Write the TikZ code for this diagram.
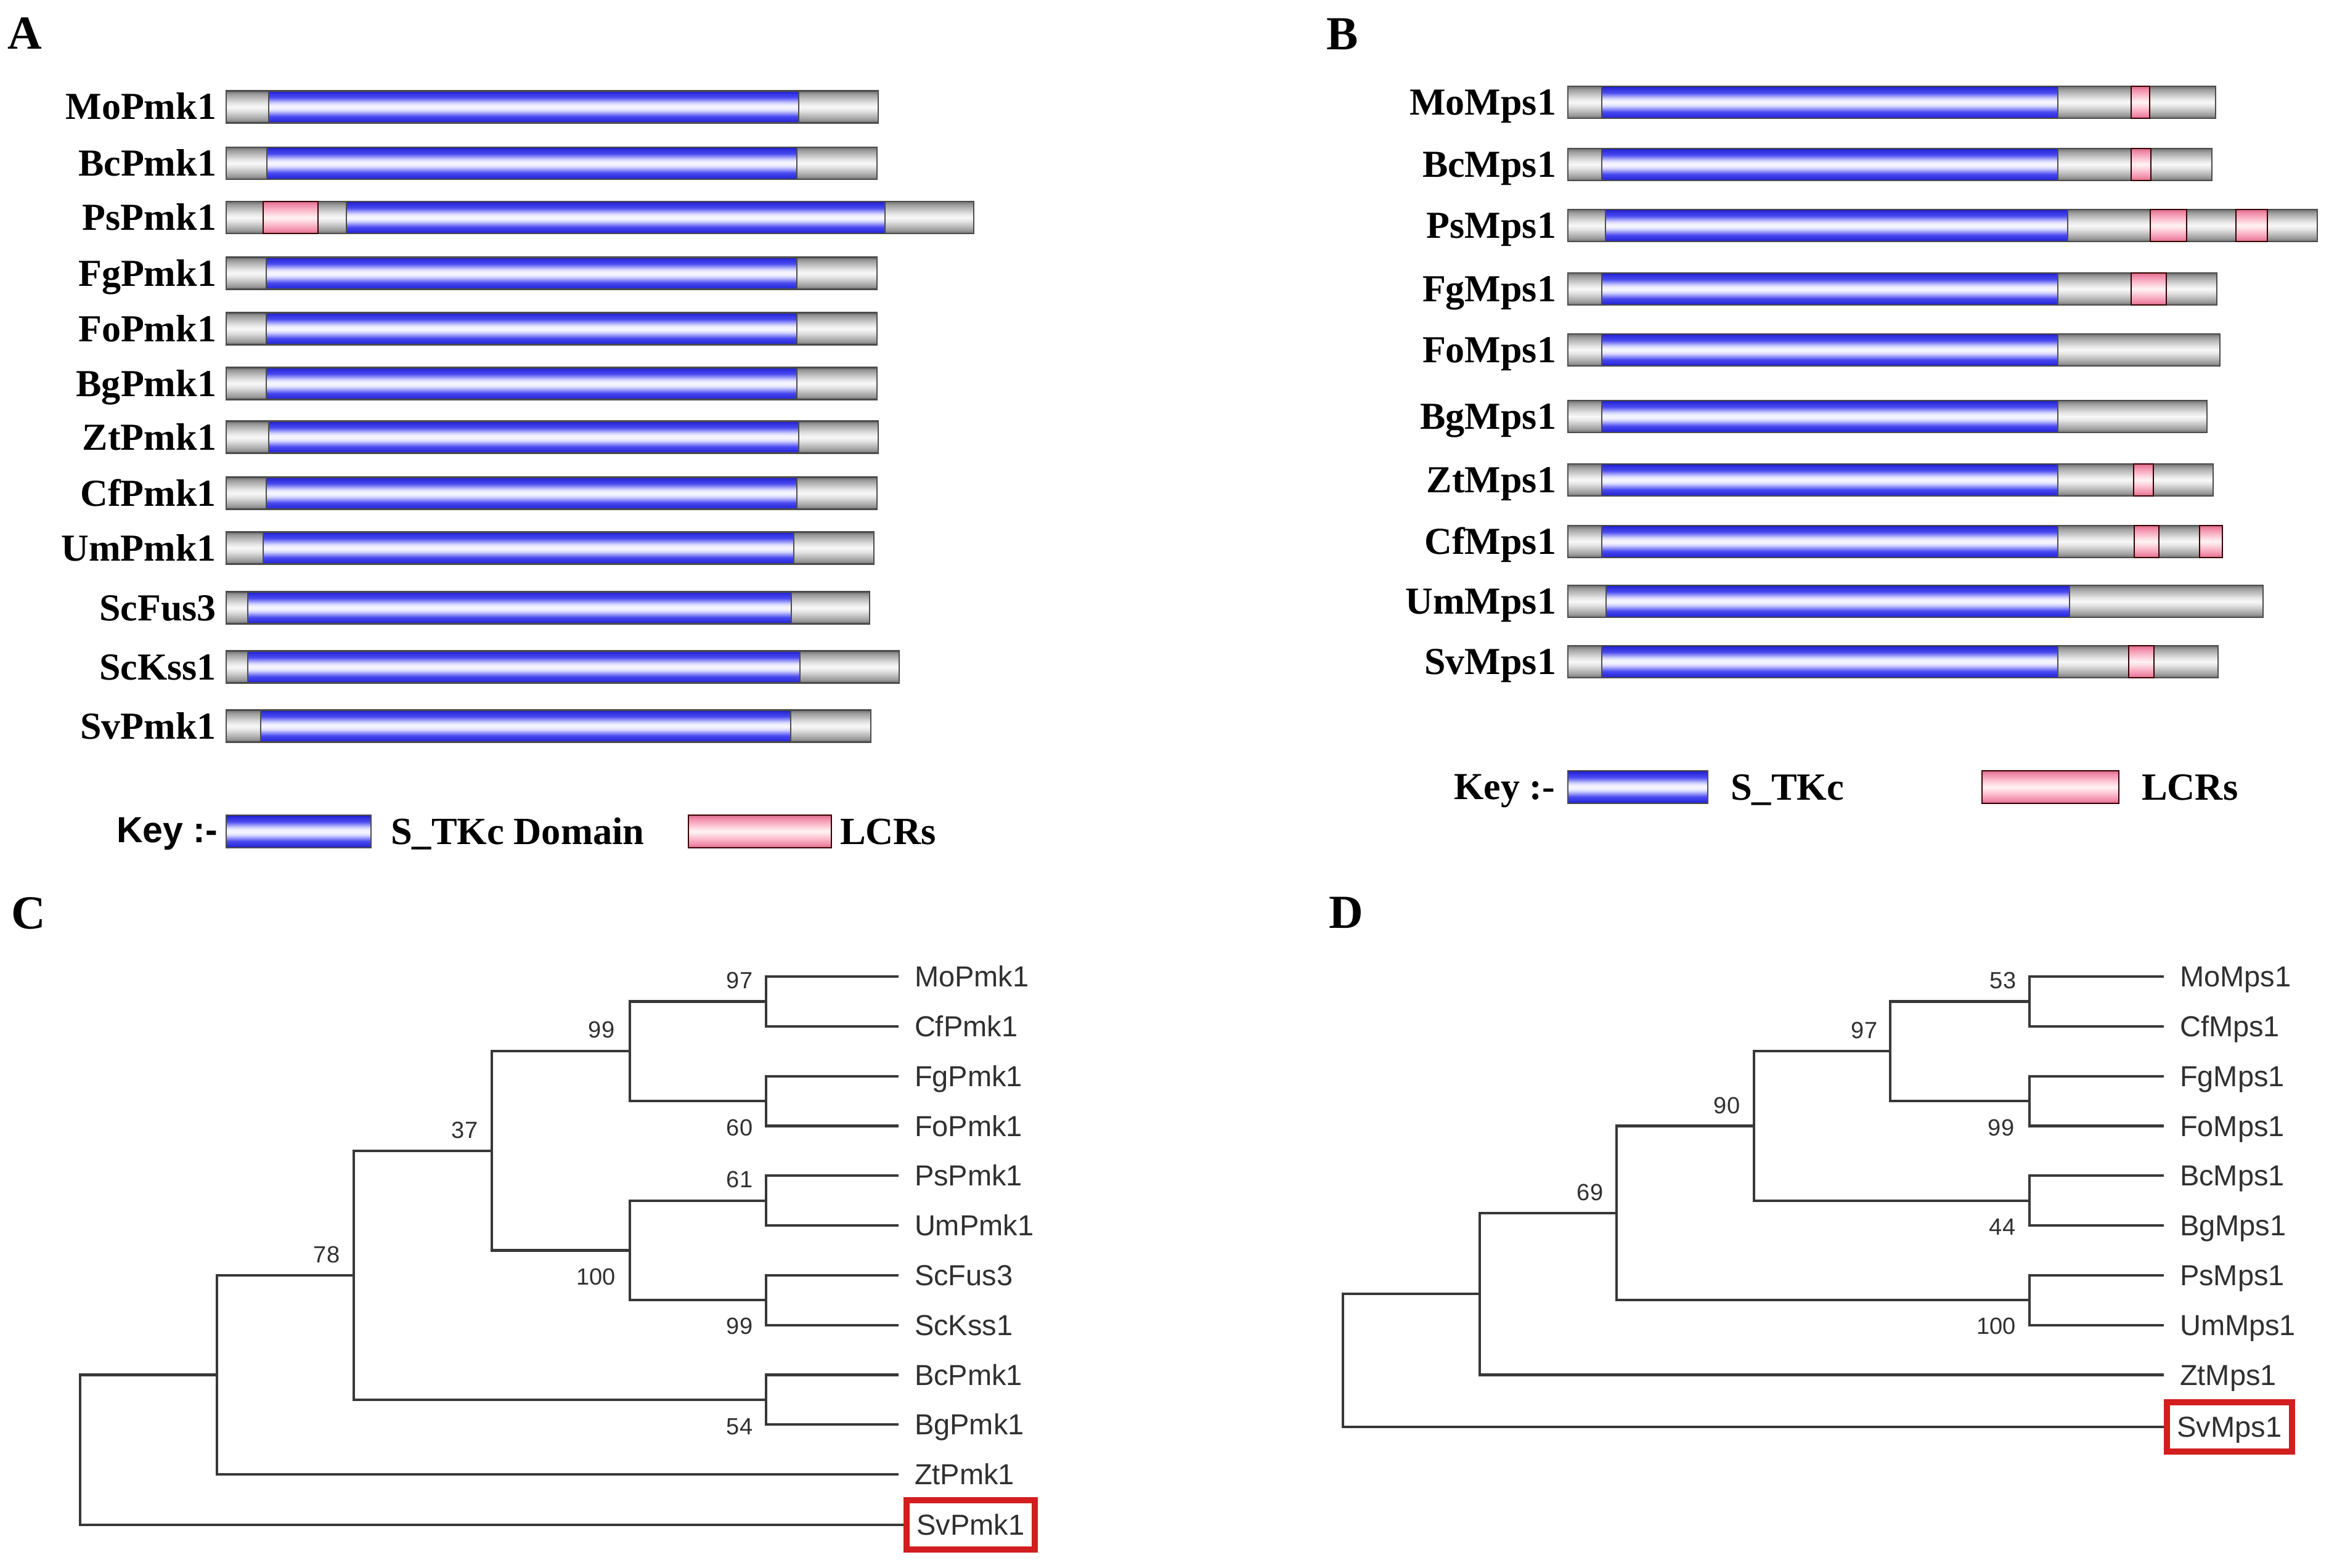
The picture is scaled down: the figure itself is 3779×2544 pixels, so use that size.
\documentclass[tikz,border=0pt]{standalone}
\usepackage{fontspec}
\setmainfont{Liberation Serif}
\newfontfamily\tnr{Liberation Serif}
\newfontfamily\ars{Liberation Sans}
\definecolor{bdk}{HTML}{1A1A8C}
\definecolor{bma}{HTML}{2828D8}
\definecolor{bmb}{HTML}{4A4AF0}
\definecolor{blt}{HTML}{D4D4FF}
\definecolor{bwt}{HTML}{F4F4FF}
\definecolor{gdk}{HTML}{6E6E6E}
\definecolor{gma}{HTML}{9C9C9C}
\definecolor{glt}{HTML}{E4E4E4}
\definecolor{gwt}{HTML}{F8F8F8}
\definecolor{pdk}{HTML}{D46A88}
\definecolor{pma}{HTML}{F08AA8}
\definecolor{plt}{HTML}{FFD6E0}
\definecolor{pwt}{HTML}{FFF4F6}
\definecolor{treecol}{HTML}{383838}
\definecolor{txtcol}{HTML}{303030}
\definecolor{boxred}{HTML}{D21E1E}
\pgfdeclareverticalshading{blueshade}{100bp}{color(0bp)=(bdk); color(25bp)=(bdk); color(27bp)=(bma); color(35bp)=(bmb); color(44bp)=(blt); color(48bp)=(bwt); color(52bp)=(bwt); color(56bp)=(blt); color(65bp)=(bmb); color(73bp)=(bma); color(75bp)=(bdk); color(100bp)=(bdk)}
\pgfdeclareverticalshading{grayshade}{100bp}{color(0bp)=(gdk); color(25bp)=(gdk); color(30bp)=(gma); color(44bp)=(glt); color(50bp)=(gwt); color(56bp)=(glt); color(70bp)=(gma); color(75bp)=(gdk); color(100bp)=(gdk)}
\pgfdeclareverticalshading{pinkshade}{100bp}{color(0bp)=(pdk); color(25bp)=(pdk); color(30bp)=(pma); color(44bp)=(plt); color(50bp)=(pwt); color(56bp)=(plt); color(70bp)=(pma); color(75bp)=(pdk); color(100bp)=(pdk)}
\tikzset{
  grayseg/.style={shade, shading=grayshade, draw=black!70, line width=0.5pt},
  blueseg/.style={shade, shading=blueshade, draw=black!70, line width=0.5pt},
  pinkseg/.style={shade, shading=pinkshade, draw=black!65!red!60!black, line width=0.5pt},
  protlab/.style={font=\tnr\bfseries\fontsize{12.4}{14}\selectfont, inner sep=0pt, anchor=east, text height=8.2pt, text depth=0pt},
  keylab/.style={font=\tnr\bfseries\fontsize{12.5}{14}\selectfont, inner sep=0pt, anchor=base west},
  panel/.style={font=\tnr\bfseries\fontsize{15.4}{17}\selectfont, inner sep=0pt, anchor=base west},
  leaf/.style={font=\ars\fontsize{9.4}{11}\selectfont, text=txtcol, anchor=west, inner xsep=5pt, inner ysep=0pt, text height=6.7pt, text depth=0pt},
  boot/.style={font=\ars\fontsize{7.6}{9}\selectfont, text=txtcol, inner sep=0pt, text height=5.4pt, text depth=0pt},
  edge/.style={draw=treecol, line width=0.85pt},
  redbox/.style={draw=boxred, line width=2pt, inner xsep=3.3pt, minimum height=16pt}
}
\newcommand\mkgray[3]{\draw[grayseg] (#1,{#3-26}) rectangle (#2,{#3+26});}
\newcommand\mkblue[3]{\draw[blueseg] (#1,{#3-26}) rectangle (#2,{#3+26});}
\newcommand\mkpink[3]{\draw[pinkseg] (#1,{#3-26}) rectangle (#2,{#3+26});}
\begin{document}
\begin{tikzpicture}[x=0.2pt,y=-0.2pt]
\fill[white] (0,0) rectangle (3779,2544);
\useasboundingbox (0,0) rectangle (3779,2544);

% ---------------- Panel letters
\node[panel] (pA) at (12,80) {A};
\node[panel] (pB) at (2151,81) {B};
\node[panel] (pC) at (17,1507) {C};
\node[panel] (pD) at (2155,1506) {D};

% ---------------- Panel A
\mkgray{367}{1425}{173.5}\mkblue{436}{1296}{173.5}
\node[protlab] (aMo) at (352,173.5) {MoPmk1};
\mkgray{367}{1423}{265}\mkblue{433}{1293}{265}
\node[protlab] (aBc) at (352,265) {BcPmk1};
\mkgray{367}{1580}{353}\mkpink{427}{516}{353}\mkblue{562}{1436}{353}
\node[protlab] (aPs) at (352,353) {PsPmk1};
\mkgray{367}{1423}{443.5}\mkblue{432}{1293}{443.5}
\node[protlab] (aFg) at (352,443.5) {FgPmk1};
\mkgray{367}{1423}{533.5}\mkblue{432}{1293}{533.5}
\node[protlab] (aFo) at (352,533.5) {FoPmk1};
\mkgray{367}{1423}{622.5}\mkblue{432}{1293}{622.5}
\node[protlab] (aBg) at (352,622.5) {BgPmk1};
\mkgray{367}{1425}{709.5}\mkblue{436}{1296}{709.5}
\node[protlab] (aZt) at (352,709.5) {ZtPmk1};
\mkgray{367}{1423}{800.5}\mkblue{432}{1293}{800.5}
\node[protlab] (aCf) at (352,800.5) {CfPmk1};
\mkgray{367}{1418}{889.5}\mkblue{427}{1288}{889.5}
\node[protlab] (aUm) at (352,889.5) {UmPmk1};
\mkgray{367}{1411}{986.5}\mkblue{402}{1284}{986.5}
\node[protlab] (aScF) at (352,986.5) {ScFus3};
\mkgray{367}{1459}{1082.5}\mkblue{402}{1298}{1082.5}
\node[protlab] (aScK) at (352,1082.5) {ScKss1};
\mkgray{367}{1413}{1178.5}\mkblue{423}{1283}{1178.5}
\node[protlab] (aSv) at (352,1178.5) {SvPmk1};

% key A
\node[font=\ars\bfseries\fontsize{11.8}{13}\selectfont, inner sep=0pt, anchor=base east] (keyA) at (354,1367) {Key :-};
\draw[blueseg] (367,1323) rectangle (602,1376);
\node[keylab] (keyAb) at (633,1370) {S\_TKc Domain};
\draw[pinkseg] (1117,1323) rectangle (1349,1376);
\node[keylab] (keyAp) at (1362,1370) {LCRs};

% ---------------- Panel B
\mkgray{2544}{3595}{166}\mkblue{2599}{3339}{166}\mkpink{3458}{3488}{166}
\node[protlab] (bMo) at (2526,166) {MoMps1};
\mkgray{2544}{3589}{267}\mkblue{2599}{3339}{267}\mkpink{3458}{3490}{267}
\node[protlab] (bBc) at (2526,267) {BcMps1};
\mkgray{2544}{3760}{366}\mkblue{2605}{3355}{366}\mkpink{3489}{3548}{366}\mkpink{3628}{3679}{366}
\node[protlab] (bPs) at (2526,366) {PsMps1};
\mkgray{2544}{3597}{469}\mkblue{2599}{3339}{469}\mkpink{3458}{3515}{469}
\node[protlab] (bFg) at (2526,469) {FgMps1};
\mkgray{2544}{3602}{568}\mkblue{2599}{3339}{568}
\node[protlab] (bFo) at (2526,568) {FoMps1};
\mkgray{2544}{3581}{676}\mkblue{2599}{3339}{676}
\node[protlab] (bBg) at (2526,676) {BgMps1};
\mkgray{2544}{3591}{779}\mkblue{2599}{3339}{779}\mkpink{3462}{3494}{779}
\node[protlab] (bZt) at (2526,779) {ZtMps1};
\mkgray{2544}{3606}{879}\mkblue{2599}{3339}{879}\mkpink{3463}{3503}{879}\mkpink{3569}{3606}{879}
\node[protlab] (bCf) at (2526,879) {CfMps1};
\mkgray{2544}{3672}{976}\mkblue{2606}{3358}{976}
\node[protlab] (bUm) at (2526,976) {UmMps1};
\mkgray{2544}{3599}{1074}\mkblue{2599}{3339}{1074}\mkpink{3454}{3495}{1074}
\node[protlab] (bSv) at (2526,1074) {SvMps1};

% key B
\node[font=\tnr\bfseries\fontsize{12.4}{14}\selectfont, inner sep=0pt, anchor=base east] (keyB) at (2524,1297) {Key :-};
\draw[blueseg] (2544,1251) rectangle (2771,1304);
\node[keylab] (keyBb) at (2807,1298) {S\_TKc};
\draw[pinkseg] (3216,1251) rectangle (3438,1304);
\node[keylab] (keyBp) at (3474,1298) {LCRs};

% ---------------- Panel C (tree)
\node[leaf] (cMo) at (1458,1585) {MoPmk1};
\node[leaf] (cCf) at (1458,1665.8) {CfPmk1};
\node[leaf] (cFg) at (1458,1746.6) {FgPmk1};
\node[leaf] (cFo) at (1458,1827.4) {FoPmk1};
\node[leaf] (cPs) at (1458,1908.2) {PsPmk1};
\node[leaf] (cUm) at (1458,1989) {UmPmk1};
\node[leaf] (cScF) at (1458,2069.8) {ScFus3};
\node[leaf] (cScK) at (1458,2150.6) {ScKss1};
\node[leaf] (cBc) at (1458,2231.4) {BcPmk1};
\node[leaf] (cBg) at (1458,2312.2) {BgPmk1};
\node[leaf] (cZt) at (1458,2393) {ZtPmk1};
\node[leaf, redbox, anchor=west] (cSv) at (1466,2475) {SvPmk1};

\coordinate (cN97) at (1243,1625.4);
\coordinate (cN60) at (1243,1787);
\coordinate (cN99a) at (1022,1706.2);
\coordinate (cN61) at (1243,1948.6);
\coordinate (cN99b) at (1243,2110.2);
\coordinate (cN100) at (1022,2029.4);
\coordinate (cN37) at (798,1867.8);
\coordinate (cN54) at (1243,2271.8);
\coordinate (cN78) at (574,2069.8);
\coordinate (cZj) at (352,2231.4);
\coordinate (cR) at (130,2352.6);

\draw[edge] (cN97) |- (cMo.west);
\draw[edge] (cN97) |- (cCf.west);
\draw[edge] (cN60) |- (cFg.west);
\draw[edge] (cN60) |- (cFo.west);
\draw[edge] (cN99a) |- (cN97);
\draw[edge] (cN99a) |- (cN60);
\draw[edge] (cN61) |- (cPs.west);
\draw[edge] (cN61) |- (cUm.west);
\draw[edge] (cN99b) |- (cScF.west);
\draw[edge] (cN99b) |- (cScK.west);
\draw[edge] (cN100) |- (cN61);
\draw[edge] (cN100) |- (cN99b);
\draw[edge] (cN37) |- (cN99a);
\draw[edge] (cN37) |- (cN100);
\draw[edge] (cN54) |- (cBc.west);
\draw[edge] (cN54) |- (cBg.west);
\draw[edge] (cN78) |- (cN37);
\draw[edge] (cN78) |- (cN54);
\draw[edge] (cZj) |- (cN78);
\draw[edge] (cZj) |- (cZt.west);
\draw[edge] (cR) |- (cZj);
\draw[edge] (cR) |- (cSv.west);

\node[boot] (cb97) at (1200,1591) {97};
\node[boot] (cb99a) at (976,1671) {99};
\node[boot] (cb60) at (1200,1830) {60};
\node[boot] (cb37) at (754,1834) {37};
\node[boot] (cb61) at (1200,1914) {61};
\node[boot] (cb78) at (530,2036) {78};
\node[boot] (cb100) at (967,2072) {100};
\node[boot] (cb99b) at (1200,2152) {99};
\node[boot] (cb54) at (1200,2315) {54};

% ---------------- Panel D (tree)
\node[leaf] (dMo) at (3511,1585) {MoMps1};
\node[leaf] (dCf) at (3511,1665.8) {CfMps1};
\node[leaf] (dFg) at (3511,1746.6) {FgMps1};
\node[leaf] (dFo) at (3511,1827.4) {FoMps1};
\node[leaf] (dBc) at (3511,1908.2) {BcMps1};
\node[leaf] (dBg) at (3511,1989) {BgMps1};
\node[leaf] (dPs) at (3511,2069.8) {PsMps1};
\node[leaf] (dUm) at (3511,2150.6) {UmMps1};
\node[leaf] (dZt) at (3511,2231.4) {ZtMps1};
\node[leaf, redbox, anchor=west] (dSv) at (3511,2316) {SvMps1};

\coordinate (dN53) at (3293,1625.4);
\coordinate (dN99) at (3293,1787);
\coordinate (dN97) at (3067,1706.2);
\coordinate (dN44) at (3293,1948.6);
\coordinate (dN90) at (2846,1827.4);
\coordinate (dN100) at (3293,2110.2);
\coordinate (dN69) at (2623,1968.8);
\coordinate (dZj) at (2401,2100.1);
\coordinate (dR) at (2179,2206.2);

\draw[edge] (dN53) |- (dMo.west);
\draw[edge] (dN53) |- (dCf.west);
\draw[edge] (dN99) |- (dFg.west);
\draw[edge] (dN99) |- (dFo.west);
\draw[edge] (dN97) |- (dN53);
\draw[edge] (dN97) |- (dN99);
\draw[edge] (dN44) |- (dBc.west);
\draw[edge] (dN44) |- (dBg.west);
\draw[edge] (dN90) |- (dN97);
\draw[edge] (dN90) |- (dN44);
\draw[edge] (dN100) |- (dPs.west);
\draw[edge] (dN100) |- (dUm.west);
\draw[edge] (dN69) |- (dN90);
\draw[edge] (dN69) |- (dN100);
\draw[edge] (dZj) |- (dN69);
\draw[edge] (dZj) |- (dZt.west);
\draw[edge] (dR) |- (dZj);
\draw[edge] (dR) |- (dSv.west);

\node[boot] (db53) at (3250,1591) {53};
\node[boot] (db97) at (3025,1672) {97};
\node[boot] (db90) at (2802,1794) {90};
\node[boot] (db99) at (3247,1830) {99};
\node[boot] (db69) at (2580,1935) {69};
\node[boot] (db44) at (3249,1991) {44};
\node[boot] (db100) at (3239,2152) {100};
\end{tikzpicture}
\end{document}
